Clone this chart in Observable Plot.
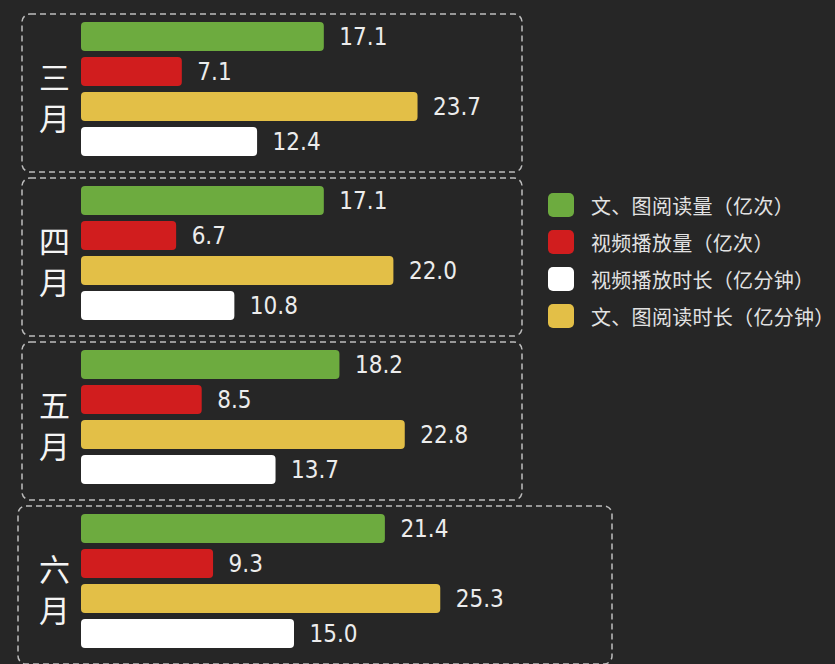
<!DOCTYPE html>
<html>
<head>
<meta charset="utf-8">
<script src="https://cdn.jsdelivr.net/npm/d3@7"></script>
<script src="https://cdn.jsdelivr.net/npm/@observablehq/plot@0.6"></script>
<style>
  html, body { margin: 0; padding: 0; background: #262626; }
  #wrap { position: relative; width: 835px; height: 664px; overflow: hidden; background: #262626; }
  #legend { position: absolute; left: 548px; top: 192px; font-family: "Noto Sans CJK SC", sans-serif; font-size: 20px; letter-spacing: 0.3px; color: #e2e2e2; }
  .item { display: flex; align-items: center; height: 26px; margin-bottom: 11px; white-space: nowrap; }
  .sw { width: 26px; height: 24px; border-radius: 5px; margin-right: 17px; flex: none; }
</style>
</head>
<body>
<div id="wrap"><div id="legend"></div></div>
<script>
const months = ["三月", "四月", "五月", "六月"];
const seriesNames = ["文、图阅读量（亿次）", "视频播放量（亿次）", "文、图阅读时长（亿分钟）", "视频播放时长（亿分钟）"];
const seriesColors = ["#6dab3f", "#d11d1e", "#e3bf47", "#ffffff"];
const readCount = [17.1, 17.1, 18.2, 21.4];
const videoPlays = [7.1, 6.7, 8.5, 9.3];
const readTime = [23.7, 22.0, 22.8, 25.3];
const videoTime = [12.4, 10.8, 13.7, 15.0];
const legendOrder = ["文、图阅读量（亿次）", "视频播放量（亿次）", "视频播放时长（亿分钟）", "文、图阅读时长（亿分钟）"];

const seriesValues = [readCount, videoPlays, readTime, videoTime];
const data = [];
months.forEach((m, i) => {
  seriesNames.forEach((s, j) => {
    data.push({month: m, series: s, value: seriesValues[j][i]});
  });
});

const numFont = "'Liberation Sans Narrow', 'DejaVu Sans Condensed', sans-serif";
const cjkFont = "'Noto Sans CJK SC', sans-serif";

const chart = Plot.plot({
  width: 835,
  height: 664,
  marginLeft: 18,
  marginRight: 223,
  marginTop: 14,
  marginBottom: 0,
  style: {background: "#262626", overflow: "visible"},
  x: {domain: [0, 30], range: [81, 81 + 30 * 14.2], axis: null},
  fy: {domain: months, paddingInner: 0.038, paddingOuter: 0, axis: null},
  y: {domain: seriesNames, paddingInner: 0.16, paddingOuter: 0, insetTop: 7, insetBottom: 14, axis: null},
  color: {domain: seriesNames, range: seriesColors},
  marks: [
    Plot.rect(months.slice(0, 3), {fy: d => d, insetLeft: 4, insetRight: 90, rx: 8, fill: "none", stroke: "#bdbdbd", strokeWidth: 1.5, strokeDasharray: "6,4"}),
    Plot.rect(months.slice(3), {fy: d => d, insetLeft: 0, insetRight: 0, rx: 8, fill: "none", stroke: "#bdbdbd", strokeWidth: 1.5, strokeDasharray: "6,4"}),
    Plot.barX(data, {x: "value", y: "series", fy: "month", fill: "series", rx: 4}),
    Plot.text(data, {x: "value", y: "series", fy: "month", text: d => d.value.toFixed(1), dx: 15, textAnchor: "start", fill: "#ececec", fontSize: 24, fontFamily: numFont}),
    Plot.text(months, {fy: d => d, text: d => d.split("").join("\n"), frameAnchor: "left", dx: 36, dy: 3, textAnchor: "middle", lineHeight: 1.32, fontSize: 31, fill: "#f4f4f4", fontFamily: cjkFont})
  ]
});
document.getElementById("wrap").prepend(chart);

const legend = document.getElementById("legend");
legendOrder.forEach(name => {
  const item = document.createElement("div");
  item.className = "item";
  const sw = document.createElement("span");
  sw.className = "sw";
  sw.style.background = seriesColors[seriesNames.indexOf(name)];
  const label = document.createElement("span");
  label.textContent = name;
  item.appendChild(sw);
  item.appendChild(label);
  legend.appendChild(item);
});
</script>
</body>
</html>
